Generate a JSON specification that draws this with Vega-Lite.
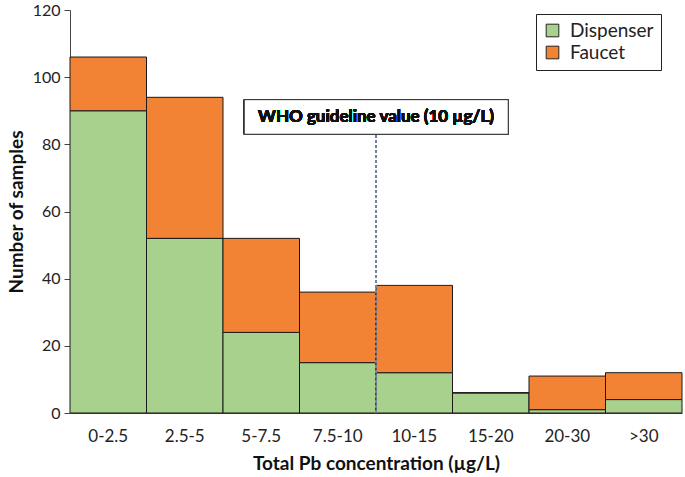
{
  "$schema": "https://vega.github.io/schema/vega-lite/v6.json",
  "autosize": "none",
  "width": 612,
  "height": 403,
  "padding": {"left": 70, "top": 10, "right": 3, "bottom": 64},
  "background": "white",
  "config": {
    "font": "Lato",
    "view": {"stroke": null},
    "axis": {"labelFont": "Lato", "titleFont": "Lato", "labelColor": "#222", "titleColor": "#111", "labelFontSize": 17, "titleFontSize": 19, "titleFontWeight": "bold", "domainColor": "#444", "tickColor": "#444", "grid": false}
  },
  "data": {
    "values": [
      {"range": "0-2.5", "source": "Dispenser", "count": 90},
      {"range": "0-2.5", "source": "Faucet", "count": 16},
      {"range": "2.5-5", "source": "Dispenser", "count": 52},
      {"range": "2.5-5", "source": "Faucet", "count": 42},
      {"range": "5-7.5", "source": "Dispenser", "count": 24},
      {"range": "5-7.5", "source": "Faucet", "count": 28},
      {"range": "7.5-10", "source": "Dispenser", "count": 15},
      {"range": "7.5-10", "source": "Faucet", "count": 21},
      {"range": "10-15", "source": "Dispenser", "count": 12},
      {"range": "10-15", "source": "Faucet", "count": 26},
      {"range": "15-20", "source": "Dispenser", "count": 6},
      {"range": "15-20", "source": "Faucet", "count": 0},
      {"range": "20-30", "source": "Dispenser", "count": 1},
      {"range": "20-30", "source": "Faucet", "count": 10},
      {"range": ">30", "source": "Dispenser", "count": 4},
      {"range": ">30", "source": "Faucet", "count": 8}
    ]
  },
  "layer": [
    {
      "mark": {"type": "bar", "stroke": "#1a1a1a", "strokeWidth": 1},
      "encoding": {
        "x": {"field": "range", "type": "nominal", "sort": null,
              "scale": {"paddingInner": 0, "paddingOuter": 0},
              "axis": {"title": "Total Pb concentration (µg/L)", "labelAngle": 0, "ticks": false, "labelPadding": 15, "titlePadding": 10}},
        "y": {"field": "count", "type": "quantitative", "stack": "zero",
              "scale": {"domain": [0, 120]},
              "axis": {"title": "Number of samples", "values": [0, 20, 40, 60, 80, 100, 120], "labelFontSize": 16, "tickSize": 6, "labelPadding": 4, "titlePadding": 6}},
        "color": {"field": "source", "type": "nominal",
                  "scale": {"domain": ["Dispenser", "Faucet"], "range": ["#A9D18E", "#F28234"]},
                  "legend": {"title": null, "orient": "none", "legendX": 466, "legendY": 4, "symbolType": "square", "symbolSize": 160, "symbolStrokeColor": "#222", "symbolStrokeWidth": 1, "labelFontSize": 19, "labelFont": "Lato", "labelColor": "#222", "strokeColor": "#222", "fillColor": "white", "padding": 7, "rowPadding": 2, "labelOffset": 8, "labelLimit": 200, "symbolOpacity": 1}},
        "order": {"field": "source", "sort": "ascending"}
      }
    },
    {
      "mark": {"type": "rule", "strokeDash": [3, 2], "color": "#7082a8", "strokeWidth": 1},
      "encoding": {
        "x": {"datum": "10-15", "bandPosition": 0},
        "y": {"datum": 0},
        "y2": {"datum": 83}
      }
    },
    {
      "mark": {"type": "rect", "fill": "white", "stroke": "#333", "strokeWidth": 1, "width": 264, "xOffset": -38},
      "encoding": {
        "x": {"datum": "10-15"},
        "y": {"datum": 83},
        "y2": {"datum": 93.3}
      }
    },
    {
      "mark": {"type": "text", "fontWeight": "bold", "fontSize": 17, "font": "Lato", "color": "#111", "align": "center", "baseline": "middle"},
      "encoding": {
        "x": {"datum": "10-15", "bandPosition": 0},
        "y": {"datum": 88.2},
        "text": {"value": "WHO guideline value (10 µg/L)"}
      }
    }
  ]
}
